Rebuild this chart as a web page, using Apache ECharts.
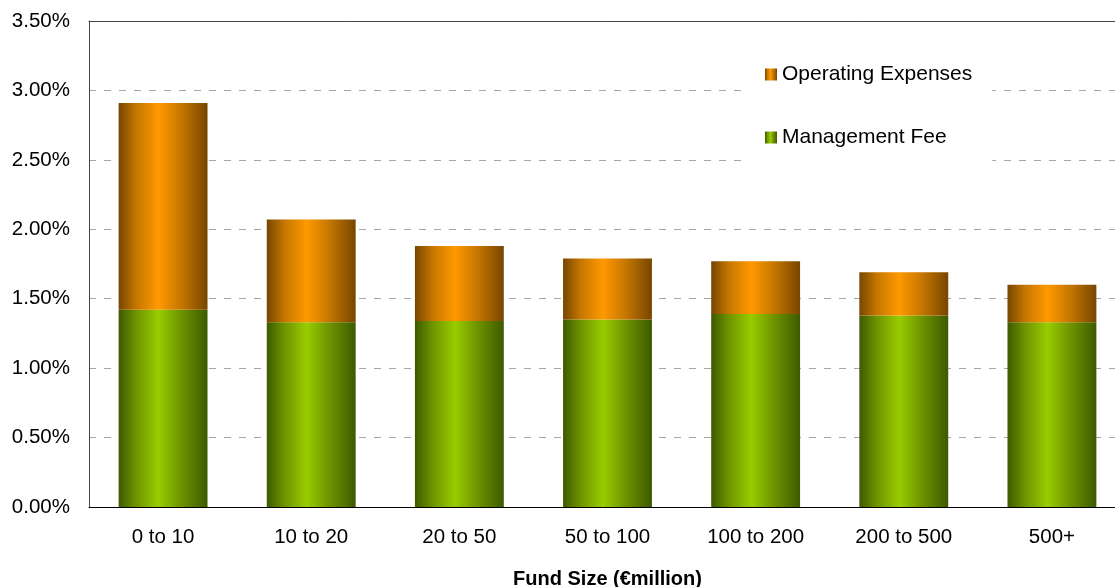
<!DOCTYPE html>
<html>
<head>
<meta charset="utf-8">
<script src="https://cdn.jsdelivr.net/npm/echarts@6/dist/echarts.min.js"></script>
<style>
html,body{margin:0;padding:0;background:#fff;}
#chart{width:1115px;height:587px;}
</style>
</head>
<body>
<div id="chart"></div>
<script>
const categories = ['0 to 10', '10 to 20', '20 to 50', '50 to 100', '100 to 200', '200 to 500', '500+'];
const managementFee = [1.42, 1.33, 1.34, 1.35, 1.39, 1.38, 1.33];
const operatingExpenses = [1.49, 0.74, 0.54, 0.44, 0.38, 0.31, 0.27];
const seriesNames = ['Operating Expenses', 'Management Fee'];
const xAxisTitle = 'Fund Size (\u20ACmillion)';

function barGrad(dark, mid, bright) {
  return new echarts.graphic.LinearGradient(0, 0, 1, 0, [
    { offset: 0, color: dark },
    { offset: 0.2, color: mid },
    { offset: 0.45, color: bright },
    { offset: 0.7, color: mid },
    { offset: 1, color: dark }
  ]);
}

const chart = echarts.init(document.getElementById('chart'), null, { renderer: 'canvas' });
const font = 'Liberation Sans, Arial, sans-serif';
chart.setOption({
  animation: false,
  backgroundColor: '#ffffff',
  grid: { left: 89, top: 21, bottom: 80, right: -11, containLabel: false, outerBoundsMode: 'none' },
  legend: {
    data: seriesNames,
    orient: 'vertical',
    left: 742,
    top: 44,
    padding: [20, 20, 20, 23],
    backgroundColor: '#ffffff',
    itemWidth: 12,
    itemHeight: 12,
    itemGap: 42,
    icon: 'rect',
    textStyle: { fontFamily: font, fontSize: 21, color: '#000' },
    selectedMode: false
  },
  xAxis: [{
    type: 'category',
    data: categories,
    name: xAxisTitle,
    nameLocation: 'middle',
    nameGap: 62,
    nameTextStyle: { fontFamily: font, fontSize: 20, fontWeight: 'bold', color: '#000' },
    axisLine: { show: true, lineStyle: { color: '#000', width: 1 } },
    axisTick: { show: false },
    axisLabel: { fontFamily: font, fontSize: 20.5, color: '#000', margin: 20 }
  }, {
    type: 'category',
    data: categories,
    position: 'top',
    axisLine: { show: true, lineStyle: { color: '#444', width: 1 } },
    axisTick: { show: false },
    axisLabel: { show: false }
  }],
  yAxis: {
    type: 'value',
    min: 0,
    max: 3.5,
    interval: 0.5,
    axisLine: { show: true, lineStyle: { color: '#444', width: 1 } },
    axisTick: { show: false },
    axisLabel: {
      fontFamily: font, fontSize: 20.5, color: '#000', margin: 19,
      formatter: v => v.toFixed(2) + '%'
    },
    splitLine: { show: true, lineStyle: { color: '#a6a6a6', type: [7, 8], width: 1 } }
  },
  series: [{
    name: 'Management Fee',
    type: 'bar',
    stack: 'total',
    barWidth: '60%',
    data: managementFee,
    itemStyle: { color: barGrad('#3d5a00', '#6f9400', '#99cc00') }
  }, {
    name: 'Operating Expenses',
    type: 'bar',
    stack: 'total',
    barWidth: '60%',
    data: operatingExpenses,
    itemStyle: { color: barGrad('#774600', '#c67700', '#ff9900') }
  }]
});
</script>
</body>
</html>
